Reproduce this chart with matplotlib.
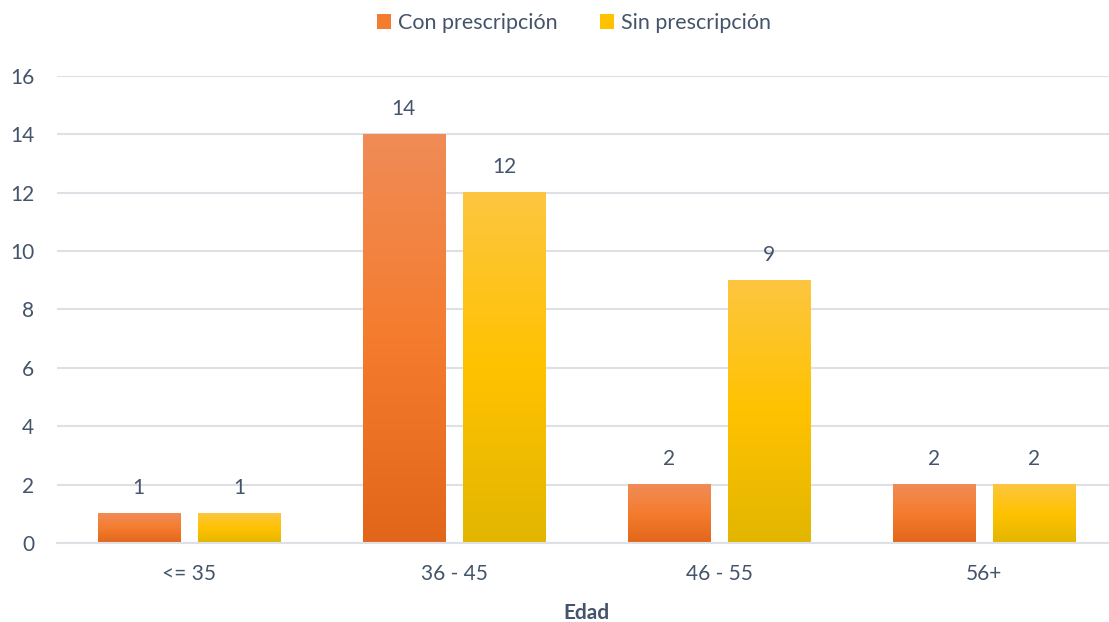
import matplotlib
matplotlib.use("Agg")
from matplotlib import pyplot as plt
from matplotlib.colors import LinearSegmentedColormap
from matplotlib.patches import Patch
import numpy as np

categories = ["<= 35", "36 - 45", "46 - 55", "56+"]
con_prescripcion = [1, 14, 2, 2]
sin_prescripcion = [1, 12, 9, 2]
series_names = ["Con prescripción", "Sin prescripción"]

text_color = "#44546A"
grid_color = "#DDE1E6"
orange_grad = ["#E2661A", "#F47C2E", "#F08C57"]  # bottom, middle, top
yellow_grad = ["#E2B600", "#FFC200", "#FDC640"]

plt.rcParams['font.family'] = ['Lato', 'DejaVu Sans']
plt.rc('font', size=15)

fig = plt.figure(figsize=(11.09, 6.22), dpi=100)
ax = fig.add_axes([56.5 / 1109, 79 / 622, 1060 / 1109, 467 / 622])

x = np.arange(len(categories))
width = 0.31
offset = 0.19


def gradient_bars(xpos, values, colors):
    cmap = LinearSegmentedColormap.from_list("g", colors)
    grad = np.linspace(0, 1, 256).reshape(-1, 1)
    bars = ax.bar(xpos, values, width, color="none", edgecolor="none")
    for b in bars:
        x0, y0 = b.get_x(), b.get_y()
        ax.imshow(grad, cmap=cmap, origin="lower", aspect="auto",
                  extent=[x0, x0 + b.get_width(), y0, y0 + b.get_height()],
                  zorder=2)
    for xp, v in zip(xpos, values):
        ax.annotate(str(v), (xp, v), xytext=(0, 18.5), textcoords="offset points",
                    ha="center", va="center", color=text_color, fontsize=15)


gradient_bars(x - offset, con_prescripcion, orange_grad)
gradient_bars(x + offset, sin_prescripcion, yellow_grad)

ax.set_xlim(-0.5, 3.5)
ax.set_ylim(0, 16)
ax.set_yticks(range(0, 17, 2))
ax.set_xticks(x)
ax.set_xticklabels(categories)
ax.yaxis.grid(True, color=grid_color, lw=1.5, zorder=0)
ax.set_axisbelow(True)
for s in ["top", "right", "left"]:
    ax.spines[s].set_visible(False)
ax.spines["bottom"].set_color(grid_color)
ax.spines["bottom"].set_linewidth(1.5)
ax.tick_params(axis="both", length=0, colors=text_color, labelsize=15)
ax.tick_params(axis="x", pad=15)
ax.tick_params(axis="y", pad=16)
ax.set_xlabel("Edad", color=text_color, fontsize=15, fontweight="bold", labelpad=14)

handles = [Patch(facecolor=orange_grad[1]), Patch(facecolor=yellow_grad[1])]
fig.legend(handles, series_names, loc="center", bbox_to_anchor=(574 / 1109, 1 - 23 / 622),
           ncol=2, frameon=False, handlelength=0.65, handleheight=0.65,
           handletextpad=0.3, columnspacing=2.0, labelcolor=text_color, fontsize=15.5)

plt.savefig("out.png", dpi=100)
